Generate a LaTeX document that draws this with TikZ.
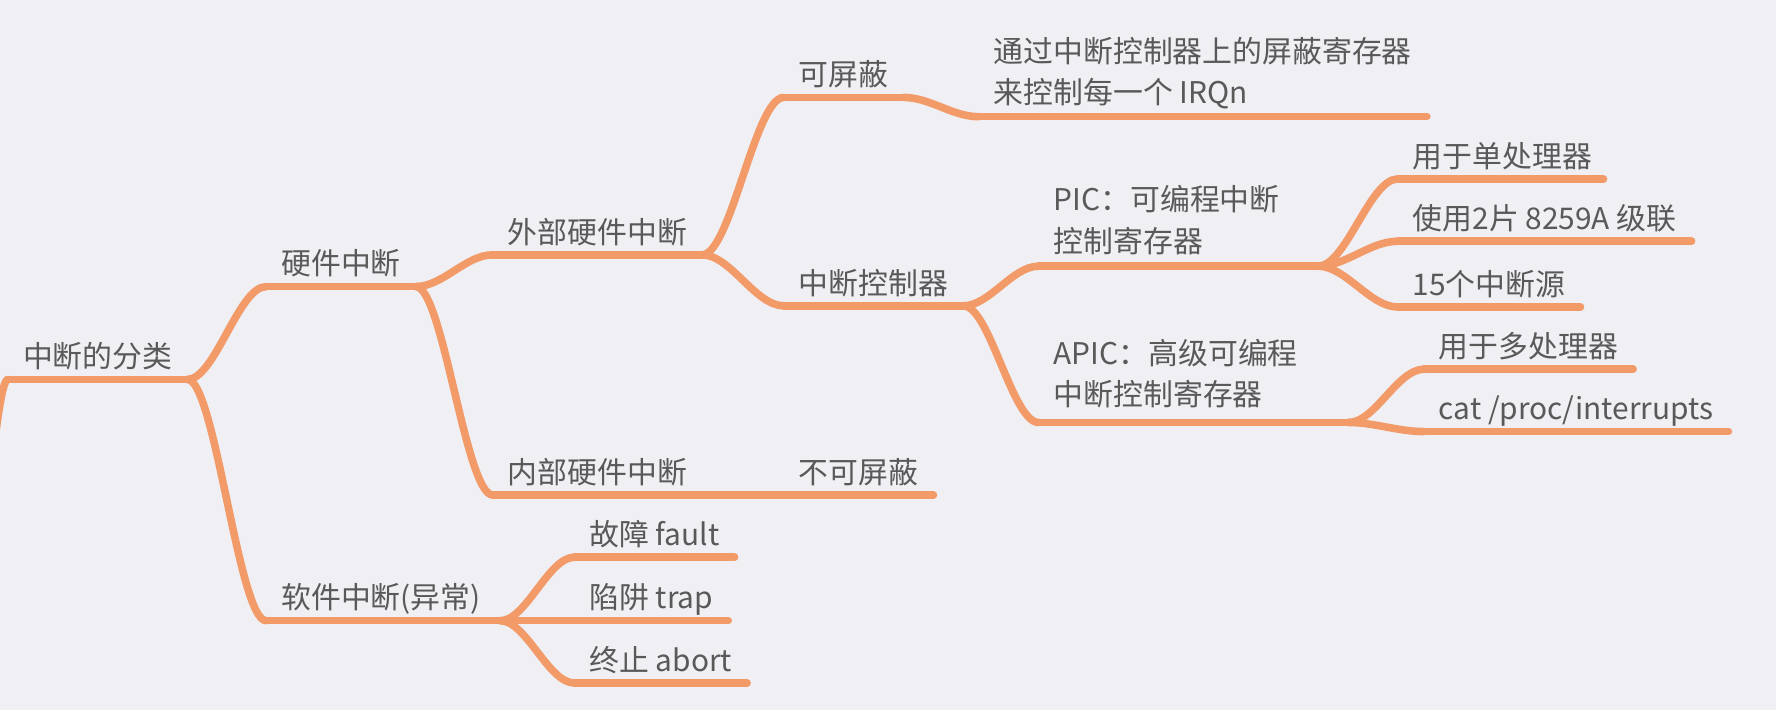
\documentclass[tikz,border=0pt]{standalone}
\usepackage{fontspec}
\setmainfont{Noto Sans CJK SC}
\usepackage{tikz}
\usetikzlibrary{calc,positioning}
\definecolor{MMBack}{HTML}{EFEFF4}
\definecolor{MMOrange}{HTML}{F29B69}
\definecolor{MMText}{HTML}{595959}
\tikzset{
  mmLine/.style={
    draw=MMOrange,
    line width=3.8pt,
    line cap=round
  },
  mmLink/.style={
    mmLine,
    to path={
      let \p1=(\tikztostart), \p2=(\tikztotarget),
          \n1={0.35*(\x2-\x1)}
      in .. controls (\x1+\n1,\y1) and (\x2-\n1,\y2) .. (\tikztotarget)
    }
  },
  mmBase/.style={
    font=\fontsize{15pt}{21pt}\selectfont,
    text=MMText,
    anchor=south west,
    align=left,
    inner xsep=2.6mm,
    append after command={
      (\tikzlastnode.south west) edge[mmLine] (\tikzlastnode.south east)
    }
  },
  mmTopic/.style={
    mmBase,
    text depth=0pt,
    inner ysep=2mm
  },
  mmNote/.style={
    mmBase,
    inner ysep=2mm
  }
}

\begin{document}
\begin{tikzpicture}[x=0.2mm, y=-0.2mm]
  \useasboundingbox (0,0) rectangle (1568,627);
  \fill [MMBack] (0,0) rectangle (1568,627);
  \clip (0,0) rectangle (1568,627);

  % topics
  \node (root) [mmTopic] at (7,335) {中断的分类};
  \node (hw) [mmTopic] at (235,253) {硬件中断};
  \node (sw) [mmTopic, text width=36mm] at (235,548) {软件中断(异常)};
  \node (exthw) [mmTopic] at (435,225) {外部硬件中断};
  \node (inthw) [mmTopic] at (435,437) {内部硬件中断};
  \node (nomask) [mmTopic] at (692,437) {不可屏蔽};
  \node (mask) [mmTopic] at (692,86) {可屏蔽};
  \node (maskreg) [mmNote, inner ysep=1.2mm] at (864,103) {通过中断控制器上的屏蔽寄存器\\来控制每一个 IRQn};
  \node (ctrl) [mmTopic] at (692,270) {中断控制器};
  \node (pic) [mmNote, text width=44mm] at (917,235) {PIC：可编程中断\\控制寄存器};
  \node (apic) [mmNote, text width=49.4mm, inner ysep=2.4mm] at (917,373) {APIC：高级可编程\\中断控制寄存器};
  \node (uni) [mmTopic, text width=31mm] at (1234,158) {用于单处理器};
  \node (cascade) [mmTopic] at (1234,213) {使用2片 8259A 级联};
  \node (src) [mmTopic] at (1234,271) {15个中断源};
  \node (multi) [mmTopic] at (1257,326) {用于多处理器};
  \node (cat) [mmTopic] at (1257,381) {cat /proc/interrupts};
  \node (fault) [mmTopic] at (507,492) {故障 fault};
  \node (trap) [mmTopic] at (507,548) {陷阱 trap};
  \node (abort) [mmTopic] at (507,603) {终止 abort};
  \coordinate (outer) at (-25,520);

  % branches
  \draw [mmLink] (outer) to (root.south west);
  \draw [mmLink] (root.south east) to (hw.south west);
  \draw [mmLink] (root.south east) to (sw.south west);
  \draw [mmLink] (hw.south east) to (exthw.south west);
  \draw [mmLink] (hw.south east) to (inthw.south west);
  \draw [mmLink] (exthw.south east) to (mask.south west);
  \draw [mmLink] (exthw.south east) to (ctrl.south west);
  \draw [mmLink] (inthw.south east) to (nomask.south west);
  \draw [mmLink] (mask.south east) to (maskreg.south west);
  \draw [mmLink] (ctrl.south east) to (pic.south west);
  \draw [mmLink] (ctrl.south east) to (apic.south west);
  \draw [mmLink] (pic.south east) to (uni.south west);
  \draw [mmLink] (pic.south east) to (cascade.south west);
  \draw [mmLink] (pic.south east) to (src.south west);
  \draw [mmLink] (apic.south east) to (multi.south west);
  \draw [mmLink] (apic.south east) to (cat.south west);
  \draw [mmLink] (sw.south east) to (fault.south west);
  \draw [mmLink] (sw.south east) to (trap.south west);
  \draw [mmLink] (sw.south east) to (abort.south west);
\end{tikzpicture}
\end{document}
